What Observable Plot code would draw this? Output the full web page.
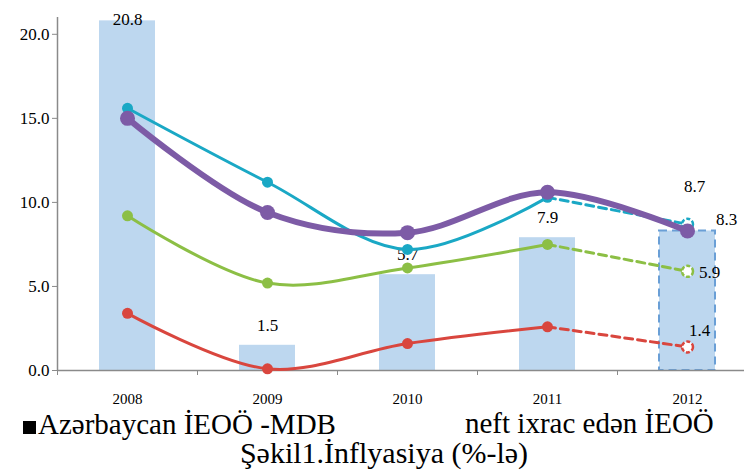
<!DOCTYPE html>
<html><head><meta charset="utf-8">
<script src="https://cdn.jsdelivr.net/npm/d3@7"></script>
<script src="https://cdn.jsdelivr.net/npm/@observablehq/plot@0.6"></script>
<style>
body{margin:0;background:#fff;}
#wrap{position:relative;width:744px;height:474px;overflow:hidden;font-family:"Liberation Serif","Tinos","Times New Roman","DejaVu Serif","Noto Serif",serif;color:#000;}
#chart{position:absolute;left:0;top:0;}
.leg{position:absolute;font-size:29px;line-height:29px;white-space:nowrap;}
.sq{display:inline-block;width:13px;height:13px;background:#000;margin-right:2px;vertical-align:baseline;}
#l1{left:23px;top:410px;}
#l2{left:465px;top:409px;}
#cap{left:384px;top:438px;transform:translateX(-50%);font-size:30px;line-height:30px;}
</style></head><body>
<div id="wrap">
<div id="chart"></div>
<div class="leg" id="l1"><span class="sq"></span>Azərbaycan İEOÖ -MDB</div>
<div class="leg" id="l2">neft ixrac edən İEOÖ</div>
<div class="leg" id="cap">Şəkil1.İnflyasiya (%-lə)</div>
</div>
<script>
// ---- data ----
const years = [2008, 2009, 2010, 2011, 2012];
const azerbaijan = [20.8, 1.5, 5.7, 7.9, 8.3];      // bars
const cis = [15.6, 11.2, 7.2, 10.3, 8.7];           // MDB (teal)
const oilExporters = [15.0, 9.4, 8.2, 10.6, 8.3];   // neft ixrac edən (purple)
const emerging = [9.2, 5.2, 6.1, 7.5, 5.9];         // İEOÖ (green)
const advanced = [3.4, 0.1, 1.6, 2.6, 1.4];         // İEÖ (red)
const yTicks = [0, 5, 10, 15, 20];
const forecastYear = 2012;

// ---- styles ----
const style = {
  "İEÖ":            {color: "#d9463e", width: 3,   r: 5.5, projected: true,  dx: 12, dy: -16},
  "İEOÖ":           {color: "#8cbf45", width: 3,   r: 5.5, projected: true,  dx: 22, dy: 1},
  "MDB":            {color: "#1aa8c5", width: 3,   r: 5.5, projected: true,  dx: 7,  dy: -38},
  "neft ixrac edən":{color: "#7d5ba6", width: 6,   r: 7.5, projected: false, dx: 0,  dy: 0}
};
const seriesList = [
  {name: "İEÖ", values: advanced},
  {name: "İEOÖ", values: emerging},
  {name: "MDB", values: cis},
  {name: "neft ixrac edən", values: oilExporters}
];

const bars = years.map((year, i) => ({year, value: azerbaijan[i]}));
const fmt = d3.format(".1f");
const barFill = "#bdd7ef";
const serif = '"Liberation Serif", "Tinos", "Times New Roman", "DejaVu Serif", "Noto Serif", serif';

const marks = [];
// bars
marks.push(Plot.rectY(bars.filter(d => d.year !== forecastYear), {
  x1: d => d.year - 0.5, x2: d => d.year + 0.5, y: "value",
  insetLeft: 42, insetRight: 42, fill: barFill
}));
marks.push(Plot.rectY(bars.filter(d => d.year === forecastYear), {
  x1: d => d.year - 0.5, x2: d => d.year + 0.5, y: "value",
  insetLeft: 42, insetRight: 42, fill: barFill, stroke: "#6a9fd6", strokeWidth: 2, strokeDasharray: "8,5"
}));
// axes
marks.push(Plot.ruleY([0], {stroke: "#8a8a8a", strokeWidth: 1.5}));
marks.push(Plot.ruleX([2007.5], {y1: 0, y2: 21, stroke: "#8a8a8a", strokeWidth: 1.5}));
marks.push(Plot.axisY(yTicks, {tickSize: 5, tickPadding: 3, tickFormat: fmt, fontSize: 17, stroke: "#8a8a8a", label: null}));
marks.push(Plot.axisX([2007.5, 2008.5, 2009.5, 2010.5, 2011.5, 2012.5], {tickSize: 5, tickFormat: () => "", stroke: "#8a8a8a", label: null}));
marks.push(Plot.text(years, {x: d => d, text: d => String(d), frameAnchor: "bottom", dy: 33, fontSize: 15, fill: "black"}));
// bar labels
marks.push(Plot.text(bars.filter(d => d.year !== forecastYear && d.value <= 20), {x: "year", y: "value", text: d => fmt(d.value), dy: -20, fontSize: 17}));
marks.push(Plot.text(bars.filter(d => d.value > 20), {x: "year", y: "value", text: d => fmt(d.value), dy: -1, fontSize: 17}));
marks.push(Plot.text(bars.filter(d => d.year === forecastYear), {x: "year", y: "value", text: d => fmt(d.value), dx: 39, dy: -11, fontSize: 17}));

// lines
for (const s of seriesList) {
  const st = style[s.name];
  const rows = years.map((year, i) => ({year, value: s.values[i]}));
  const solid = st.projected ? rows.filter(d => d.year < forecastYear) : rows;
  marks.push(Plot.line(solid, {x: "year", y: "value", stroke: st.color, strokeWidth: st.width, curve: "catmull-rom"}));
  if (st.projected) {
    const dashed = rows.filter(d => d.year >= forecastYear - 1);
    marks.push(Plot.line(dashed, {x: "year", y: "value", stroke: st.color, strokeWidth: st.width, strokeDasharray: "8,5", curve: "catmull-rom"}));
    marks.push(Plot.dot(rows.filter(d => d.year === forecastYear), {x: "year", y: "value", r: st.r, fill: "white", stroke: st.color, strokeWidth: 2.5, strokeDasharray: "4,2"}));
    marks.push(Plot.text(rows.filter(d => d.year === forecastYear), {x: "year", y: "value", text: d => fmt(d.value), dx: st.dx, dy: st.dy, fontSize: 17}));
  }
  marks.push(Plot.dot(solid, {x: "year", y: "value", r: st.r, fill: st.color}));
}

const chart = Plot.plot({
  width: 744,
  height: 410,
  marginLeft: 57,
  marginRight: 0,
  marginTop: 17,
  marginBottom: 40,
  style: {fontFamily: serif, background: "white", color: "black"},
  x: {type: "linear", domain: [2007.5, 2012.5], range: [57, 757]},
  y: {domain: [0, 21], range: [370, 17]},
  marks
});
document.getElementById("chart").appendChild(chart);
</script>
</body></html>
